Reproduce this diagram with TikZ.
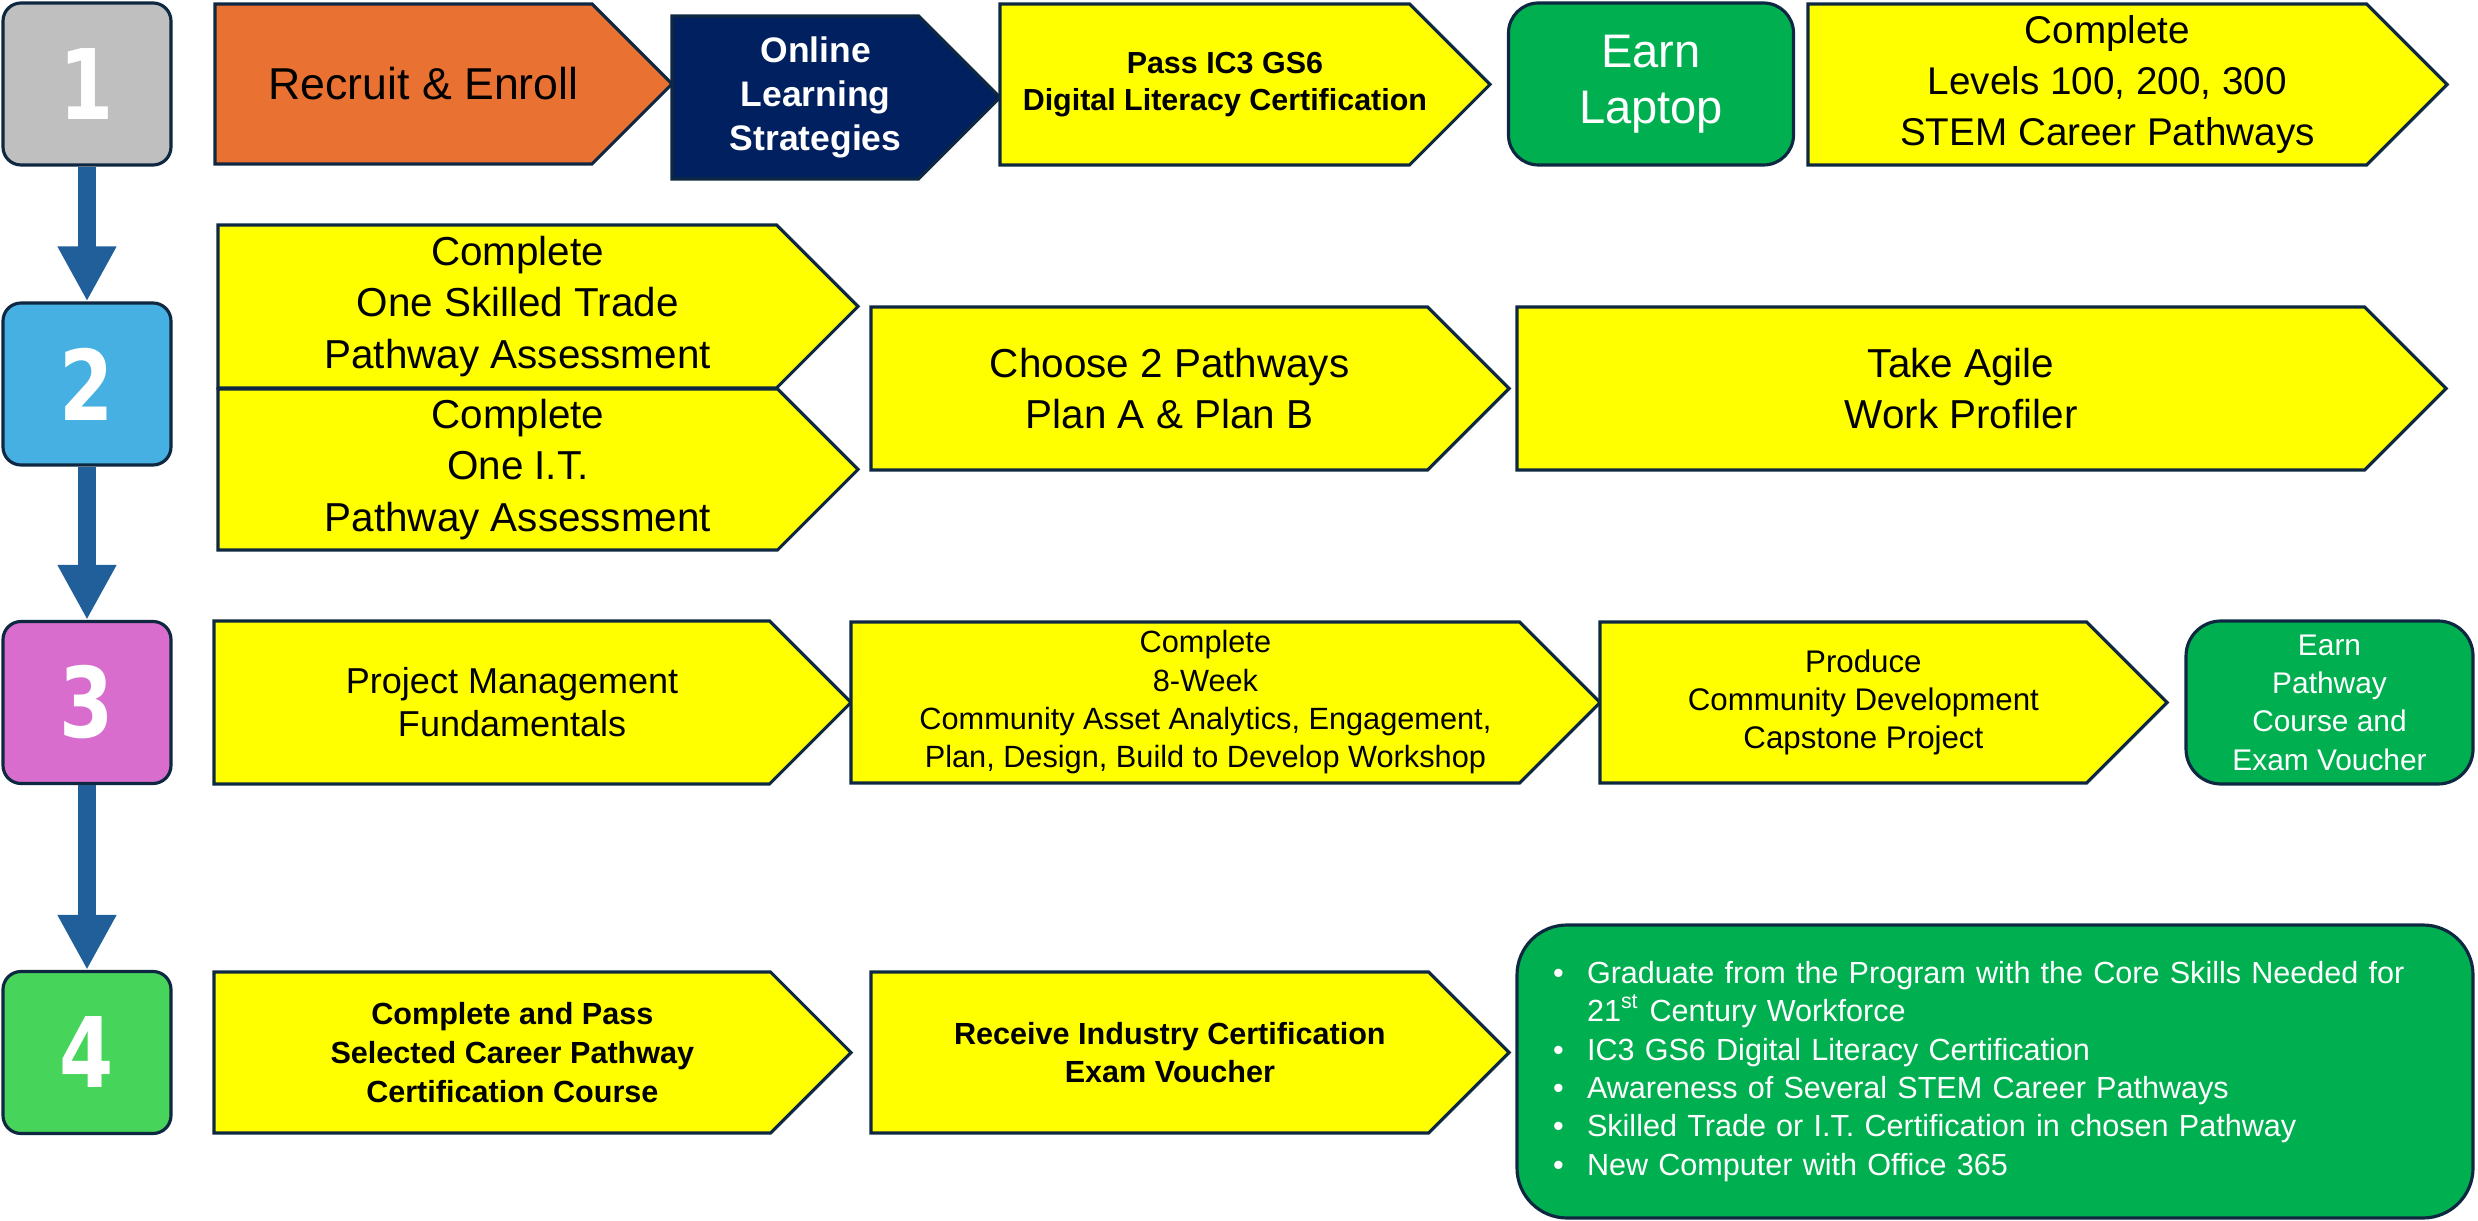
\documentclass[tikz,border=0pt]{standalone}
\usepackage{fontspec}
\setmainfont{Liberation Sans}
\newfontfamily\numfont[FakeStretch=0.8]{DejaVu Sans}
\usetikzlibrary{arrows.meta,calc}

\definecolor{edge}{HTML}{0E2841}
\definecolor{flowblue}{HTML}{215F9A}
\definecolor{greyone}{HTML}{BFBFBF}
\definecolor{bluetwo}{HTML}{45B0E1}
\definecolor{pinkthree}{HTML}{D86DCD}
\definecolor{greenfour}{HTML}{47D45A}
\definecolor{recruitorange}{HTML}{E97132}
\definecolor{navy}{HTML}{002060}
\definecolor{stepyellow}{HTML}{FFFF00}
\definecolor{earngreen}{HTML}{00B050}

%% a pentagon step: name, left, top, right, bottom, fill, text style, text
\newcommand{\stepchev}[8]{%
  \filldraw[chev, fill=#6] (#2,#3) -- ({#4-(#5-#3)/2},#3) -- (#4,{(#3+#5)/2})
      -- ({#4-(#5-#3)/2},#5) -- (#2,#5) -- cycle;
  \node[steptext, #7] (#1) at ({(#2+#4)/2-(#5-#3)/8},{(#3+#5)/2}) {#8};
}

\begin{document}
\begin{tikzpicture}[x=0.1mm, y=-0.1mm
        , chev/.style={draw=edge, line width=0.9pt, line join=miter}
        , steptext/.style={align=center, inner sep=0pt}
        , sz/.style 2 args={font={\fontsize{#1pt}{#2pt}\selectfont}}
        , szb/.style 2 args={font={\fontsize{#1pt}{#2pt}\selectfont\bfseries}}
        , numbox/.style={draw=edge, line width=0.9pt, rounded corners=1.8mm
            , minimum width=16.8mm, minimum height=16.2mm, text=white
            , font={\numfont\bfseries\fontsize{27.7pt}{28pt}\selectfont}}
        , earnbox/.style={draw=edge, line width=0.9pt, fill=earngreen
            , text=white, align=center}
        , flow/.style={draw=flowblue, line width=1.73mm
            , -{Triangle[length=5.5mm, width=5.5mm]}}
    ]

    \useasboundingbox (0,0) rectangle (2478,1221);

    % the four stages
    \node[numbox, fill=greyone] (one) at (87,84) {1};
    \node[numbox, fill=bluetwo] (two) at (87,384) {2};
    \node[numbox, fill=pinkthree] (three) at (87,702.5) {3};
    \node[numbox, fill=greenfour] (four) at (87,1052.5) {4};

    \draw[flow] (one.south) -- (two.north);
    \draw[flow] (two.south) -- (three.north);
    \draw[flow] (three.south) -- (four.north);

    % stage one
    \stepchev{recruit}{215}{4}{672}{164}{recruitorange}{sz={12.7}{15}}{Recruit \& Enroll}
    \stepchev{online}{672}{16}{1000}{179}{navy}{szb={10.1}{12.5}, text=white}{Online\\Learning\\Strategies}
    \stepchev{ic3}{1000}{4}{1490}{165}{stepyellow}{szb={8.66}{10.4}}{Pass IC3 GS6\\Digital Literacy Certification}
    \node[earnbox, rounded corners=3mm, minimum width=28.5mm, minimum height=16.2mm
        , sz={13.4}{16.1}] (laptop) at (1651,84) {Earn\\Laptop};
    \stepchev{levels}{1808}{4}{2447}{165}{stepyellow}{sz={11}{14.4}}{Complete\\Levels 100, 200, 300\\STEM Career Pathways}

    % stage two
    \stepchev{trade}{218}{225}{858}{388}{stepyellow}{sz={11.5}{14.6}}{Complete\\One Skilled Trade\\Pathway Assessment}
    \stepchev{itpath}{218}{389}{858}{550}{stepyellow}{sz={11.5}{14.6}}{Complete\\One I.T.\\Pathway Assessment}
    \stepchev{choose}{871}{307}{1509}{470}{stepyellow}{sz={11.5}{14.6}}{Choose 2 Pathways\\Plan A \& Plan B}
    \stepchev{agile}{1517}{307}{2446}{470}{stepyellow}{sz={11.5}{14.6}}{Take Agile\\Work Profiler}

    % stage three
    \stepchev{project}{214}{621}{851}{784}{stepyellow}{sz={10.25}{12.2}}{Project Management\\Fundamentals}
    \stepchev{workshop}{851}{622}{1600}{783}{stepyellow}{sz={8.74}{10.9}}{Complete\\8-Week\\Community Asset Analytics, Engagement,\\Plan, Design, Build to Develop Workshop}
    \stepchev{capstone}{1600}{622}{2167}{783}{stepyellow}{sz={8.9}{10.9}}{Produce\\Community Development\\Capstone Project}
    \node[earnbox, rounded corners=3.5mm, minimum width=28.7mm, minimum height=16.3mm
        , sz={8.5}{10.9}] (voucher) at (2329.5,702.5) {Earn\\Pathway\\Course and\\Exam Voucher};

    % stage four
    \stepchev{certcourse}{214}{972}{851}{1133}{stepyellow}{szb={8.7}{11}}{Complete and Pass\\Selected Career Pathway\\Certification Course}
    \stepchev{industry}{871}{972}{1509}{1133}{stepyellow}{szb={8.7}{10.9}}{Receive Industry Certification\\Exam Voucher}

    %% what the graduate leaves with
    \node[earnbox, rounded corners=5mm, minimum width=95.6mm, minimum height=29.3mm
        , text width=88.4mm, align=left, sz={8.7}{10.9}] (outcomes) at (1995,1071.5) {%
        \makebox[3.4mm][l]{\textbullet}Graduate from the Program with the Core Skills Needed for\\
        \hspace*{3.4mm}21\textsuperscript{st} Century Workforce\\
        \makebox[3.4mm][l]{\textbullet}IC3 GS6 Digital Literacy Certification\\
        \makebox[3.4mm][l]{\textbullet}Awareness of Several STEM Career Pathways\\
        \makebox[3.4mm][l]{\textbullet}Skilled Trade or I.T. Certification in chosen Pathway\\
        \makebox[3.4mm][l]{\textbullet}New Computer with Office 365};
\end{tikzpicture}
\end{document}
